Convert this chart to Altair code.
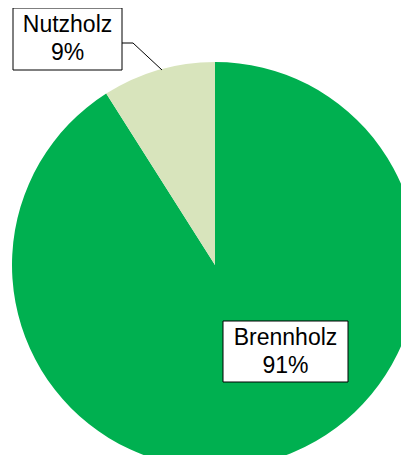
import altair as alt
import pandas as pd

# ---- data ----
categories = ["Brennholz", "Nutzholz"]
shares = [91, 9]
colors = ["#00B050", "#D8E4BC"]

# ---- layout (pixels inside the chart) ----
W, H = 393, 447
CX, CY, R = 207, 257, 203
label_box = {  # x, x2, y, y2
    "Brennholz": (215, 340, 313, 374),
    "Nutzholz": (5, 114, 0, 62),
}
leader_x = [114, 125, 154]
leader_y = [35, 35, 62]
LINE_GAP = 14

df = pd.DataFrame({"cat": categories, "share": shares, "ord": list(range(len(categories)))})

pie = alt.Chart(df).mark_arc(radius=R).encode(
    theta=alt.Theta("share:Q", stack=True),
    color=alt.Color("cat:N", scale=alt.Scale(domain=categories, range=colors), legend=None),
    order=alt.Order("ord:Q"),
    x=alt.value(CX),
    y=alt.value(CY),
)

lab = pd.DataFrame({
    "cat": categories,
    "share": shares,
    "x": [label_box[c][0] for c in categories],
    "x2": [label_box[c][1] for c in categories],
    "y": [label_box[c][2] for c in categories],
    "y2": [label_box[c][3] for c in categories],
})
lab["cx"] = (lab["x"] + lab["x2"]) / 2
lab["cy"] = (lab["y"] + lab["y2"]) / 2
lab["y_top"] = lab["cy"] - LINE_GAP
lab["y_bot"] = lab["cy"] + LINE_GAP
lab["pct"] = lab["share"].astype(str) + "%"

boxes = alt.Chart(lab).mark_rect(fill="white", stroke="black", strokeWidth=1).encode(
    x=alt.X("x:Q", scale=None), x2="x2:Q",
    y=alt.Y("y:Q", scale=None), y2="y2:Q",
)

text_style = dict(font="Liberation Sans", fontSize=23, align="center", baseline="middle", color="black")
names = alt.Chart(lab).mark_text(**text_style).encode(
    x=alt.X("cx:Q", scale=None), y=alt.Y("y_top:Q", scale=None), text="cat:N"
)
pcts = alt.Chart(lab).mark_text(**text_style).encode(
    x=alt.X("cx:Q", scale=None), y=alt.Y("y_bot:Q", scale=None), text="pct:N"
)

leader_df = pd.DataFrame({"x": leader_x, "y": leader_y, "o": range(len(leader_x))})
leader = alt.Chart(leader_df).mark_line(color="black", strokeWidth=1).encode(
    x=alt.X("x:Q", scale=None), y=alt.Y("y:Q", scale=None), order="o:Q"
)

chart = alt.layer(pie, leader, boxes, names, pcts).properties(
    width=W, height=H, autosize=alt.AutoSizeParams(type="none"), padding=0
).configure_view(stroke=None)

chart.save("out.html", embed_options={"renderer": "svg", "actions": False})
